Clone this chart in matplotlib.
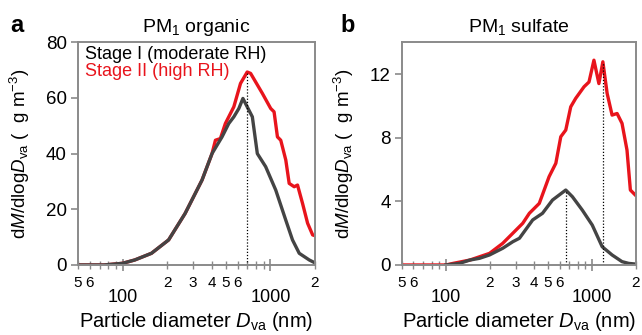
import numpy as np
import matplotlib.pyplot as plt
from matplotlib.ticker import FixedLocator, FixedFormatter

plt.rcParams['font.family'] = ['Liberation Sans', 'DejaVu Sans']
plt.rcParams['mathtext.fontset'] = 'custom'
plt.rcParams['mathtext.rm'] = 'Liberation Sans'
plt.rcParams['mathtext.it'] = 'Liberation Sans:italic'

# PM1 organic, stage I (moderate RH)
org_d1 = [50, 75, 100, 121, 157, 205, 265, 345, 403, 471, 523, 566, 612, 652,
          755, 816, 929, 1087, 1271, 1411, 1567, 1832, 2030]
org_y1 = [0, 0, 0.6, 1.8, 4.2, 9.0, 18.5, 30.5, 40, 46, 50.8, 53.2, 56.2, 59.8,
          53.2, 40, 35.3, 26.9, 16.1, 9.0, 4.2, 1.8, 0.6]
# PM1 organic, stage II (high RH)
org_d2 = [50, 75, 100, 121, 157, 205, 265, 345, 403, 425, 459, 496, 566, 628, 697,
          735, 883, 1005, 1059, 1116, 1175, 1271, 1340, 1449, 1526, 1650, 1785,
          1930, 2090]
org_y2 = [0, 0, 0.6, 1.8, 4.2, 9.0, 18.5, 30.5, 40, 44.8, 45.4, 50.8, 56.8, 65.2,
          69.3, 68.8, 61.6, 56.2, 55, 46, 44.8, 37.7, 29.3, 28.1, 28.7, 22.1, 15,
          10.8, 10.2]

# PM1 sulfate, stage I
sul_d1 = [100, 124, 146, 170, 199, 245, 287, 319, 393, 459, 537, 597, 662, 735,
          859, 1005, 1175, 1374, 1607, 1785, 1980]
sul_y1 = [0, 0.1, 0.31, 0.42, 0.63, 1.05, 1.46, 1.68, 2.83, 3.25, 4.08, 4.4, 4.71,
          4.29, 3.45, 2.51, 1.15, 0.63, 0.21, 0.1, 0.06]
# PM1 sulfate, stage II
sul_d2 = [50, 100, 112, 146, 199, 245, 287, 336, 373, 436, 509, 566, 612, 662, 716,
          774, 883, 955, 1032, 1116, 1188, 1271, 1374, 1487, 1607, 1738, 1833, 1980]
sul_y2 = [0, 0, 0.1, 0.31, 0.73, 1.36, 1.99, 2.62, 3.25, 3.87, 5.55, 6.39, 8.06,
          8.48, 9.94, 10.47, 11.2, 11.5, 12.87, 11.4, 12.77, 10.78, 9.42, 9.52,
          8.9, 7.22, 4.71, 4.4]

# mode diameters marked with dotted lines (diameter, height)
org_modes = [(697, 69.3)]
sul_modes = [(662, 4.71), (1188, 12.77)]

minor_pos = [50, 60, 70, 80, 90, 200, 300, 400, 500, 600, 700, 800, 900, 2000]
minor_lab = ['5', '6', '', '', '', '2', '3', '4', '5', '6', '', '', '', '2']

black = '#444444'
red = '#e8141c'
frame = '#8a8a8a'

fig = plt.figure(figsize=(6.42, 3.35), dpi=100)
ax1 = fig.add_axes([0.1215, 0.209, 0.369, 0.665])
ax2 = fig.add_axes([0.626, 0.209, 0.3645, 0.665])

panels = [
    (ax1, org_d1, org_y1, org_d2, org_y2, org_modes, 80, [0, 20, 40, 60, 80],
     'PM$_1$ organic'),
    (ax2, sul_d1, sul_y1, sul_d2, sul_y2, sul_modes, 14, [0, 4, 8, 12],
     'PM$_1$ sulfate'),
]

for ax, d1, y1, d2, y2, modes, ymax, yt, title in panels:
    ax.plot(d2, y2, color=red, lw=2.4, solid_joinstyle='round')
    ax.plot(d1, y1, color=black, lw=2.4, solid_joinstyle='round')
    for xm, hm in modes:
        ax.plot([xm, xm], [0, hm], color='black', lw=0.9, ls=(0, (1, 1.5)))
    ax.set_xscale('log')
    ax.set_xlim(50, 2000)
    ax.set_ylim(0, ymax)
    ax.set_yticks(yt)
    ax.xaxis.set_major_locator(FixedLocator([100, 1000]))
    ax.xaxis.set_major_formatter(FixedFormatter(['100', '1000']))
    ax.xaxis.set_minor_locator(FixedLocator(minor_pos))
    ax.xaxis.set_minor_formatter(FixedFormatter(minor_lab))
    ax.tick_params(axis='x', which='major', direction='inout', length=9, width=1.2,
                   color=frame, labelsize=13, pad=13)
    ax.tick_params(axis='x', which='minor', direction='inout', length=6, width=1.0,
                   color=frame, labelsize=11, pad=5)
    ax.tick_params(axis='y', direction='out', length=5, width=1.2, color=frame,
                   labelsize=13.5, pad=3)
    for s in ax.spines.values():
        s.set_color(frame)
        s.set_linewidth(1.4)
    ax.set_title(title, fontsize=14, pad=7)
    ax.set_xlabel('Particle diameter $\\it{D}_{\\rm va}$ (nm)', fontsize=14.5,
                  labelpad=3)
    ax.set_ylabel('d$\\it{M}$/dlog$\\it{D}_{\\rm va}$ (  g m$^{-3}$)', fontsize=13.5,
                  labelpad=10)

fig.text(0.016, 0.904, 'a', fontsize=17, fontweight='bold')
fig.text(0.531, 0.904, 'b', fontsize=17, fontweight='bold')

ax1.text(0.03, 0.985, 'Stage I (moderate RH)', transform=ax1.transAxes,
         fontsize=13, color='black', va='top')
ax1.text(0.03, 0.905, 'Stage II (high RH)', transform=ax1.transAxes,
         fontsize=13, color=red, va='top')

fig.savefig('out.png', dpi=100)
